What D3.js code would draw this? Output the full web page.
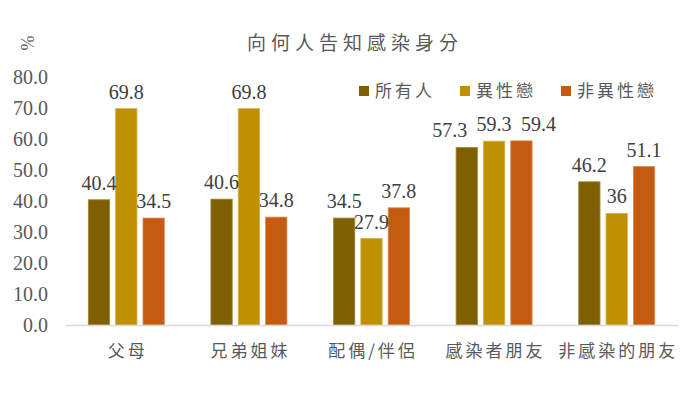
<!DOCTYPE html>
<html>
<head>
<meta charset="utf-8">
<script src="https://cdn.jsdelivr.net/npm/d3@7"></script>
<style>
  body { margin: 0; background: #fff; }
  svg { display: block; }
</style>
</head>
<body>
<script>

// data
const categories = ['父母', '兄弟姐妹', '配偶/伴侶', '感染者朋友', '非感染的朋友'];
const seriesNames = ['所有人', '異性戀', '非異性戀'];
const allPeople = [40.4, 40.6, 34.5, 57.3, 46.2];
const hetero = [69.8, 69.8, 27.9, 59.3, 36];
const nonHetero = [34.5, 34.8, 37.8, 59.4, 51.1];
const yTicks = [0, 10, 20, 30, 40, 50, 60, 70, 80];
const title = '向何人告知感染身分';

const seriesValues = [allPeople, hetero, nonHetero];
const colors = ['#7f6000', '#bf9000', '#c55a11'];
const edges = ['#a58a3a', '#d8b04a', '#e08a50'];

const numFont = "'Liberation Serif'";
const cjkFont = "'Noto Sans CJK TC'";

const width = 700, height = 393;
const margin = { top: 77, right: 22, bottom: 68, left: 65 };

const svg = d3.select('body').append('svg')
  .attr('width', width)
  .attr('height', height);

// scales
const x0 = d3.scaleBand()
  .domain(categories)
  .range([margin.left, width - margin.right])
  .paddingInner(0.38)
  .paddingOuter(0.19);

const x1 = d3.scaleBand()
  .domain(seriesNames)
  .range([0, x0.bandwidth()])
  .paddingInner(0.22);

const y = d3.scaleLinear()
  .domain([0, 80])
  .range([height - margin.bottom, margin.top]);

// y axis labels (no line, no ticks)
const yAxis = d3.axisLeft(y)
  .tickValues(yTicks)
  .tickFormat(d3.format('.1f'))
  .tickSize(0)
  .tickPadding(0);

const yg = svg.append('g')
  .attr('transform', `translate(${margin.left - 17},0)`)
  .call(yAxis);
yg.select('.domain').remove();
yg.selectAll('text')
  .style('font-family', numFont)
  .style('font-size', '20px')
  .attr('fill', '#595959');

// bars
const rows = categories.map((c, i) => ({
  cat: c,
  vals: seriesNames.map((s, j) => ({ s, j, v: seriesValues[j][i], cat: c }))
}));

const groups = svg.append('g').selectAll('g')
  .data(rows)
  .join('g')
  .attr('transform', d => `translate(${x0(d.cat)},0)`);

groups.selectAll('rect')
  .data(d => d.vals)
  .join('rect')
  .attr('x', d => x1(d.s))
  .attr('y', d => y(d.v))
  .attr('width', x1.bandwidth())
  .attr('height', d => y(0) - y(d.v))
  .attr('fill', d => colors[d.j])
  .attr('stroke', d => edges[d.j])
  .attr('stroke-width', 0.8);

// labels that collide get spread sideways, like the original chart did
const labelShift = { '感染者朋友': [-17, 0, 17] };

groups.selectAll('text')
  .data(d => d.vals)
  .join('text')
  .attr('x', d => x1(d.s) + x1.bandwidth() / 2 + (labelShift[d.cat] ? labelShift[d.cat][d.j] : 0))
  .attr('y', d => y(d.v) - 10)
  .attr('text-anchor', 'middle')
  .style('font-family', numFont)
  .style('font-size', '20px')
  .attr('fill', '#404040')
  .text(d => d.v);

// x axis baseline and category labels
const xAxis = d3.axisBottom(x0).tickSize(0).tickPadding(20);
const xg = svg.append('g')
  .attr('transform', `translate(0,${y(0)})`)
  .call(xAxis);
xg.select('.domain')
  .attr('stroke', '#d9d9d9')
  .attr('stroke-width', 1.5);
xg.selectAll('text')
  .style('font-family', cjkFont)
  .style('font-size', '17px')
  .attr('letter-spacing', 3)
  .attr('dx', '1.5')
  .attr('fill', '#595959');

// title and unit
svg.append('text')
  .attr('x', 355)
  .attr('y', 50)
  .attr('text-anchor', 'middle')
  .style('font-family', cjkFont)
  .style('font-size', '19px')
  .attr('letter-spacing', 5)
  .attr('fill', '#595959')
  .text(title);

svg.append('text')
  .attr('transform', 'translate(34,43) rotate(-90)')
  .attr('text-anchor', 'middle')
  .style('font-family', numFont)
  .style('font-size', '18px')
  .attr('fill', '#595959')
  .text('%');

// legend
const legendX = [359, 460, 561];
const legend = svg.append('g').selectAll('g')
  .data(seriesNames)
  .join('g')
  .attr('transform', (d, i) => `translate(${legendX[i]},86)`);

legend.append('rect')
  .attr('width', 10)
  .attr('height', 10)
  .attr('fill', (d, i) => colors[i]);

legend.append('text')
  .attr('x', 16)
  .attr('y', 11)
  .style('font-family', cjkFont)
  .style('font-size', '17px')
  .attr('letter-spacing', 3)
  .attr('fill', '#595959')
  .text(d => d);

</script>
</body>
</html>
